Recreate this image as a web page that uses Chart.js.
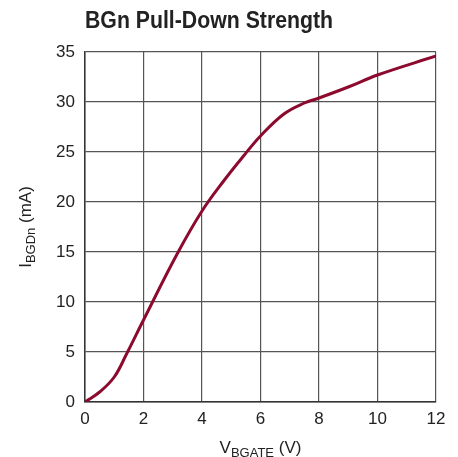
<!DOCTYPE html>
<html>
<head>
<meta charset="utf-8">
<script src="https://cdn.jsdelivr.net/npm/chart.js@4"></script>
<style>
  html, body { margin: 0; padding: 0; background: #fff; }
  #wrap { width: 458px; height: 457px; }
</style>
</head>
<body>
<div id="wrap"><canvas id="grafica" width="458" height="457"></canvas></div>
<script>
// Datos
const vGate = [0, 0.5, 1.0, 1.42, 2.0, 3.14, 4.0, 4.74, 5.42, 6.0, 6.8, 7.5, 8.0, 9.0, 10.0, 12.0];
const iBGDn = [0, 1.0, 2.5, 4.8, 8.2, 14.75, 19.1, 22.1, 24.6, 26.6, 28.8, 29.9, 30.4, 31.5, 32.7, 34.6];
const xTicks = [0, 2, 4, 6, 8, 10, 12];
const yTicks = [0, 5, 10, 15, 20, 25, 30, 35];
const titulo = 'BGn Pull-Down Strength';

const fuente = '"Liberation Sans Narrow", "Arial Narrow", "Liberation Sans", Arial, sans-serif';

// Dibuja texto con subíndice, centrado en (0,0) del contexto actual
function textoSub(ctx, base, sub, resto, tam) {
  ctx.font = tam + 'px ' + fuente;
  const w1 = ctx.measureText(base).width;
  const w3 = ctx.measureText(resto).width;
  ctx.font = Math.round(tam * 0.78) + 'px ' + fuente;
  const w2 = ctx.measureText(sub).width;
  let x = -(w1 + w2 + w3) / 2;
  ctx.textBaseline = 'alphabetic';
  ctx.textAlign = 'left';
  ctx.font = tam + 'px ' + fuente;
  ctx.fillText(base, x, 0);
  x += w1;
  ctx.font = Math.round(tam * 0.78) + 'px ' + fuente;
  ctx.fillText(sub, x, 4);
  x += w2;
  ctx.font = tam + 'px ' + fuente;
  ctx.fillText(resto, x, 0);
}

const textos = {
  id: 'textos',
  afterDraw(chart) {
    const ctx = chart.ctx;
    const area = chart.chartArea;
    ctx.save();
    ctx.fillStyle = '#222';

    // titulo (algo estrecho, como la fuente condensada del original)
    ctx.save();
    ctx.translate(area.left, 28);
    ctx.scale(0.886, 1);
    ctx.font = 'bold 24px ' + fuente;
    ctx.textAlign = 'left';
    ctx.textBaseline = 'alphabetic';
    ctx.fillText(titulo, 0, 0);
    ctx.restore();

    // eje x
    ctx.save();
    ctx.translate((area.left + area.right) / 2, 453);
    textoSub(ctx, 'V', 'BGATE', ' (V)', 17);
    ctx.restore();

    // eje y
    ctx.save();
    ctx.translate(31, (area.top + area.bottom) / 2);
    ctx.rotate(-Math.PI / 2);
    textoSub(ctx, 'I', 'BGDn', ' (mA)', 17);
    ctx.restore();

    ctx.restore();
  }
};

const datos = vGate.map((v, i) => ({ x: v, y: iBGDn[i] }));

new Chart(document.getElementById('grafica'), {
  type: 'scatter',
  data: {
    datasets: [{
      data: datos,
      showLine: true,
      borderColor: '#8c0a2e',
      borderWidth: 3,
      pointRadius: 0,
      tension: 0.4,
      fill: false
    }]
  },
  options: {
    responsive: false,
    animation: false,
    layout: { padding: { left: 0, right: 22, top: 52, bottom: 0 } },
    plugins: {
      legend: { display: false },
      tooltip: { enabled: false },
      title: { display: false }
    },
    scales: {
      x: {
        type: 'linear',
        min: 0,
        max: 12,
        afterFit(s) { s.height = 55; },
        afterBuildTicks(s) { s.ticks = xTicks.map(v => ({ value: v })); },
        grid: { color: '#555', lineWidth: 1.2, drawTicks: false },
        border: { color: '#333', width: 1.5 },
        ticks: { color: '#222', padding: 7, font: { family: fuente, size: 17 } }
      },
      y: {
        type: 'linear',
        min: 0,
        max: 35,
        afterFit(s) { s.width = 85; },
        afterBuildTicks(s) { s.ticks = yTicks.map(v => ({ value: v })); },
        grid: { color: '#555', lineWidth: 1.2, drawTicks: false },
        border: { color: '#333', width: 1.5 },
        ticks: { color: '#222', padding: 10, font: { family: fuente, size: 17 } }
      }
    }
  },
  plugins: [textos]
});
</script>
</body>
</html>
